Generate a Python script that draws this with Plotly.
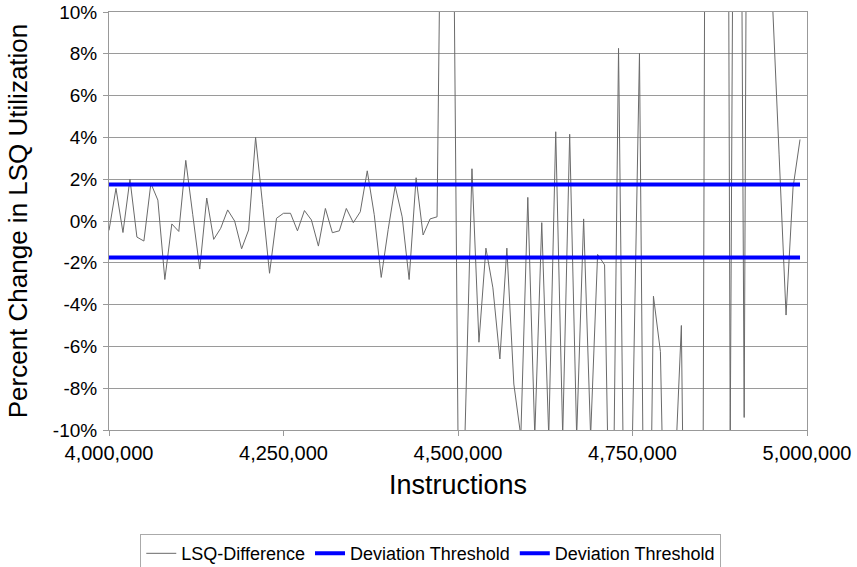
import plotly.graph_objects as go

# ---- data ----
instructions = [4000000 + 10000 * i for i in range(100)]
lsq_difference = [
    -0.45, 1.56, -0.55, 2.0, -0.77, -0.96, 1.8, 1.0, -2.8, -0.14,
    -0.5, 2.9, 0.3, -2.3, 1.1, -0.88, -0.35, 0.53, 0.0, -1.33,
    -0.43, 4.0, 0.8, -2.5, 0.13, 0.37, 0.37, -0.47, 0.5, 0.05,
    -1.2, 0.6, -0.56, -0.47, 0.6, -0.08, 0.44, 2.4, 0.3, -2.7,
    -0.4, 1.67, 0.2, -2.8, 2.07, -0.67, 0.1, 0.2, 30.0, 29.0,
    -10.3, -10.2, 2.5, -5.8, -1.3, -3.2, -6.6, -1.3, -7.8, -10.3,
    1.13, -10.3, -0.08, -10.3, 4.27, -10.3, 4.15, -10.3, 0.1, -10.3,
    -1.6, -2.1, -21.0, 8.26, -21.0, -10.2, 8.02, -30.0, -3.6, -6.25,
    -23.0, -12.8, -5.0, -34.0, -30.0, -24.0, 82.0, 60.0, 90.0, -10.5,
    53.0, -9.4, 66.0, 40.0, 25.0, 10.9, 3.2, -4.5, 1.6, 3.9,
]
threshold_upper = 1.75
threshold_lower = -1.75

y_tick_values = [-10, -8, -6, -4, -2, 0, 2, 4, 6, 8, 10]
y_tick_labels = ["-10%", "-8%", "-6%", "-4%", "-2%", "0%", "2%", "4%", "6%", "8%", "10%"]
x_tick_values = [4000000, 4250000, 4500000, 4750000, 5000000]
x_tick_labels = ["4,000,000", "4,250,000", "4,500,000", "4,750,000", "5,000,000"]

FONT = "Liberation Sans, Arial, sans-serif"

fig = go.Figure()
fig.add_trace(go.Scatter(
    x=instructions, y=lsq_difference, mode="lines", name="LSQ-Difference",
    line=dict(color="#6a6a6a", width=1),
))
fig.add_trace(go.Scatter(
    x=[instructions[0], instructions[-1]], y=[threshold_upper, threshold_upper],
    mode="lines", name="Deviation Threshold",
    line=dict(color="#0000ff", width=4),
))
fig.add_trace(go.Scatter(
    x=[instructions[0], instructions[-1]], y=[threshold_lower, threshold_lower],
    mode="lines", name="Deviation Threshold",
    line=dict(color="#0000ff", width=4),
))

fig.update_layout(
    width=857, height=567,
    margin=dict(l=109, r=50, t=12, b=137, autoexpand=False),
    paper_bgcolor="white", plot_bgcolor="white",
    font=dict(family=FONT, color="black", size=19),
    showlegend=True,
    legend=dict(
        orientation="h", x=0.461, xanchor="center",
        yref="container", y=0.058, yanchor="top",
        bordercolor="#aaaaaa", borderwidth=1, bgcolor="white",
        font=dict(family=FONT, size=18, color="black"),
        itemwidth=30,
    ),
    xaxis=dict(
        range=[4000000, 5000000], automargin=False,
        tickvals=x_tick_values, ticktext=x_tick_labels,
        ticks="outside", ticklen=5, tickcolor="#999999",
        showgrid=False, zeroline=False,
        showline=True, linecolor="#999999", linewidth=1, mirror=True,
        tickfont=dict(size=20),
        title=dict(text="Instructions", font=dict(size=27), standoff=12),
    ),
    yaxis=dict(
        range=[-10, 10], automargin=False,
        tickvals=y_tick_values, ticktext=y_tick_labels,
        ticks="outside", ticklen=5, tickcolor="#999999",
        ticklabelstandoff=2,
        showgrid=True, gridcolor="#9a9a9a", gridwidth=1, zeroline=False,
        showline=True, linecolor="#999999", linewidth=1, mirror=True,
        tickfont=dict(size=19),
        title=dict(text="Percent Change in LSQ Utilization", font=dict(size=26), standoff=17),
    ),
)

fig.write_html("out.html")
